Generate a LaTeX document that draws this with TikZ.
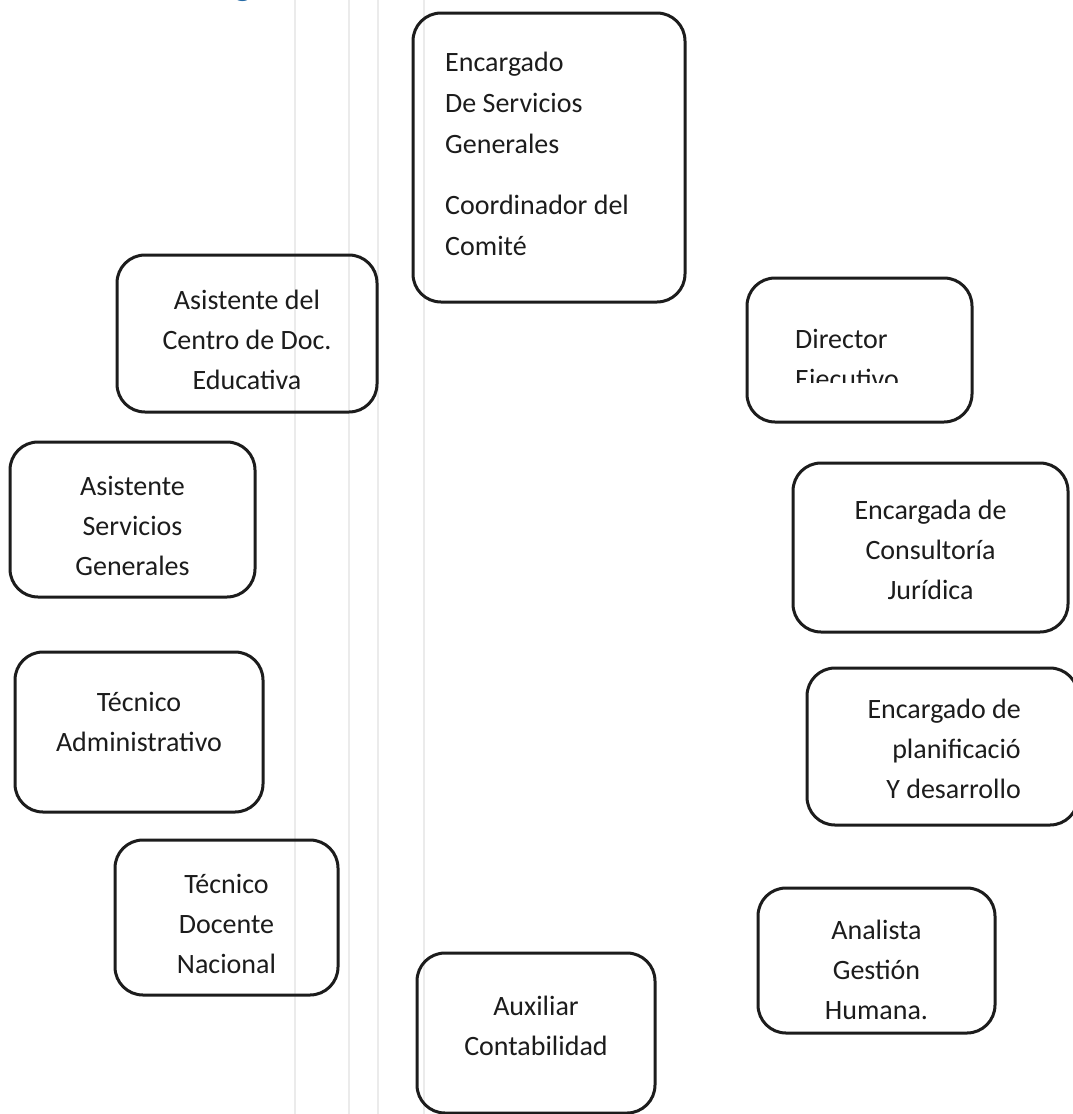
\documentclass[tikz,border=0pt]{standalone}
\usepackage{fontspec}
\setmainfont{Carlito}
\newlength{\du}
\setlength{\du}{1pt}
\newcommand{\cargofont}{\fontsize{28}{40}\selectfont}
\newcommand{\cargofontalto}{\fontsize{28}{41}\selectfont}
\tikzset{
  rolebox/.style={draw=dialinecolor, line width=3\du, rounded corners=28\du, inner sep=0pt},
  roletext/.style={text=dialinecolor, inner sep=0pt, font=\cargofont},
  scanline/.style={draw=scangray, line width=1.5\du}
}

\begin{document}
\begin{tikzpicture}
\pgftransformxscale{1.000000}
\pgftransformyscale{-1.000000}
\definecolor{dialinecolor}{rgb}{0.110000, 0.110000, 0.110000}
\definecolor{scangray}{rgb}{0.920000, 0.920000, 0.920000}
\definecolor{headblue}{rgb}{0.150000, 0.420000, 0.650000}
\useasboundingbox (0\du,0\du) rectangle (1073\du,1114\du);
\clip (0\du,0\du) rectangle (1073\du,1114\du);
\fill[white] (0\du,0\du) rectangle (1073\du,1114\du);
% faint lines of the scan
\draw[scanline] (295.000000\du,0.000000\du)--(295.000000\du,1114.000000\du);
\draw[scanline] (349.000000\du,0.000000\du)--(349.000000\du,1114.000000\du);
\draw[scanline] (378.000000\du,0.000000\du)--(378.000000\du,1114.000000\du);
\draw[scanline] (424.000000\du,0.000000\du)--(424.000000\du,1114.000000\du);
% heading cut at the top
\begin{scope}
\clip (200\du,0\du) rectangle (300\du,5\du);
\node[anchor=base, inner sep=0pt, text=headblue, font=\fontsize{36}{40}\selectfont\bfseries] (encabezado) at (243.000000\du,-5.000000\du){g};
\end{scope}
\node[rolebox, minimum width=272\du, minimum height=289\du] (servicios) at (549.000000\du,157.500000\du){};
% setfont left to latex
\node[roletext, anchor=west, align=left, font=\cargofontalto] (serviciostexto) at (445.000000\du,154.000000\du){Encargado\\De Servicios\\Generales\\[20\du]Coordinador del\\Comité};
\node[rolebox, minimum width=260\du, minimum height=157\du] (centrodoc) at (247.000000\du,333.500000\du){};
\node[roletext, align=center] (centrodoctexto) at (247.000000\du,340.000000\du){Asistente del\\Centro de Doc.\\Educativa};
\node[rolebox, minimum width=225\du, minimum height=144\du] (director) at (859.500000\du,350.000000\du){};
\begin{scope}
\clip (740\du,270\du) rectangle (980\du,382\du);
% setfont left to latex
\node[roletext, anchor=west, align=left] (directortexto) at (795.000000\du,361.500000\du){Director\\Ejecutivo};
\end{scope}
\node[rolebox, minimum width=245\du, minimum height=155\du] (asistserv) at (132.500000\du,519.500000\du){};
\node[roletext, align=center] (asistservtexto) at (132.500000\du,526.000000\du){Asistente\\Servicios\\Generales};
\node[rolebox, minimum width=275\du, minimum height=169\du] (juridica) at (930.500000\du,547.500000\du){};
\node[roletext, align=center] (juridicatexto) at (930.500000\du,549.500000\du){Encargada de\\Consultoría\\Jurídica};
\node[rolebox, minimum width=248\du, minimum height=160\du] (tecadmin) at (139.000000\du,732.000000\du){};
\node[roletext, align=center] (tecadmintexto) at (139.000000\du,721.500000\du){Técnico\\Administrativo};
\node[rolebox, minimum width=271\du, minimum height=157\du] (planif) at (942.500000\du,746.500000\du){};
% setfont right to latex
\node[roletext, anchor=east, align=right] (planiftexto) at (1021.000000\du,749.000000\du){Encargado de\\planificació\\Y desarrollo};
\node[rolebox, minimum width=223\du, minimum height=155\du] (tecdoc) at (226.500000\du,917.500000\du){};
\node[roletext, align=center] (tecdoctexto) at (226.500000\du,924.000000\du){Técnico\\Docente\\Nacional};
\node[rolebox, minimum width=238\du, minimum height=160\du] (auxiliar) at (536.000000\du,1033.000000\du){};
\node[roletext, align=center] (auxiliartexto) at (536.000000\du,1026.000000\du){Auxiliar\\Contabilidad};
\node[rolebox, minimum width=237\du, minimum height=145\du] (analista) at (876.500000\du,960.500000\du){};
\node[roletext, align=center] (analistatexto) at (876.500000\du,969.500000\du){Analista\\Gestión\\Humana.};
\end{tikzpicture}
\end{document}
